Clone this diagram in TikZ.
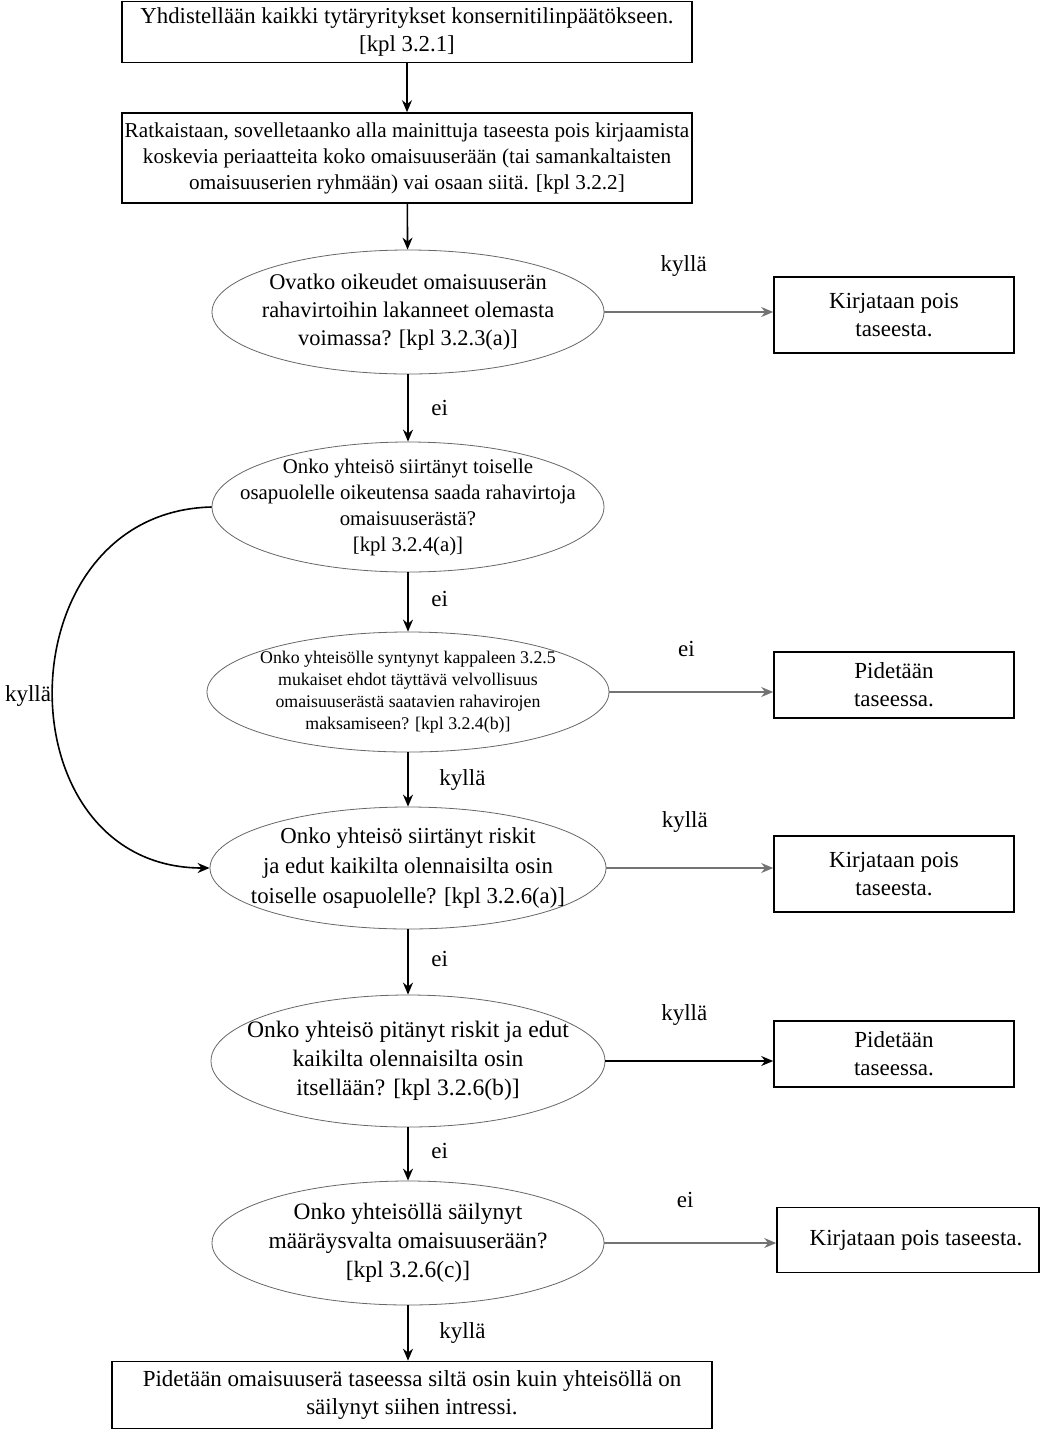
\documentclass[tikz,border=0pt]{standalone}
\usepackage{fontspec}
\setmainfont{Liberation Serif}
\usetikzlibrary{arrows.meta,shapes.geometric,positioning}

\begin{document}
\begin{tikzpicture}[x=0.5pt, y=-0.5pt,
		box/.style={draw, thick, rectangle, align=center, inner sep=0pt, font=\fontsize{11.4}{13.8}\selectfont},
		question/.style={draw=black!60, ellipse, align=center, inner xsep=-22pt, inner ysep=-10pt, font=\fontsize{11.2}{14}\selectfont},
		outcome/.style={draw, thick, rectangle, align=center, inner sep=0pt, minimum width=120pt, font=\fontsize{11.5}{14}\selectfont},
		lbl/.style={text=black, font=\fontsize{11.5}{14}\selectfont},
		flow/.style={-{Stealth[length=6pt,width=5pt]}, thick},
		soft/.style={-{Stealth[length=6pt,width=5pt]}, black!55, thick}]

		\useasboundingbox (0,0) rectangle (1060,1431);

		% main column
		\node[box, minimum width=285pt, minimum height=30.5pt] (b1) at (407,32)
			{Yhdistellään kaikki tytäryritykset konsernitilinpäätökseen.\\ {[kpl 3.2.1]}};
		\node[box, minimum width=285pt, minimum height=45pt, font=\fontsize{10.6}{13}\selectfont] (b2) at (407,158)
			{Ratkaistaan, sovelletaanko alla mainittuja taseesta pois kirjaamista\\
			 koskevia periaatteita koko omaisuuserään (tai samankaltaisten\\
			 omaisuuserien ryhmään) vai osaan siitä. [kpl 3.2.2]};

		\node[question, minimum width=196pt, minimum height=62pt] (e1) at (408,312)
			{Ovatko oikeudet omaisuuserän\\ rahavirtoihin lakanneet olemasta\\ voimassa? [kpl 3.2.3(a)]};
		\node[question, minimum width=196pt, minimum height=65pt, font=\fontsize{10.4}{13}\selectfont] (e2) at (408,507)
			{Onko yhteisö siirtänyt toiselle\\ osapuolelle oikeutensa saada rahavirtoja\\ omaisuuserästä?\\ {[kpl 3.2.4(a)]}};
		\node[question, minimum width=201pt, minimum height=60pt, font=\fontsize{8.9}{11}\selectfont] (e3) at (408,692)
			{Onko yhteisölle syntynyt kappaleen 3.2.5\\ mukaiset ehdot täyttävä velvollisuus\\ omaisuuserästä saatavien rahavirojen\\ maksamiseen? [kpl 3.2.4(b)]};
		\node[question, minimum width=198pt, minimum height=61pt, font=\fontsize{11.4}{15}\selectfont] (e4) at (408,868)
			{Onko yhteisö siirtänyt riskit\\ ja edut kaikilta olennaisilta osin\\ toiselle osapuolelle? [kpl 3.2.6(a)]};
		\node[question, minimum width=197pt, minimum height=66pt, font=\fontsize{11.8}{14.5}\selectfont] (e5) at (408,1061)
			{Onko yhteisö pitänyt riskit ja edut\\ kaikilta olennaisilta osin\\ itsellään? [kpl 3.2.6(b)]};
		\node[question, minimum width=196pt, minimum height=62pt, font=\fontsize{11.7}{14.5}\selectfont] (e6) at (408,1243)
			{Onko yhteisöllä säilynyt\\ määräysvalta omaisuuserään?\\ {[kpl 3.2.6(c)]}};

		\node[box, minimum width=300pt, minimum height=33.5pt, font=\fontsize{11.5}{14}\selectfont] (b3) at (412,1395)
			{Pidetään omaisuuserä taseessa siltä osin kuin yhteisöllä on\\ säilynyt siihen intressi.};

		% outcomes on the right
		\node[outcome, minimum height=38pt] (r1) at (894,315) {Kirjataan pois\\ taseesta.};
		\node[outcome, minimum height=33pt] (r2) at (894,685) {Pidetään\\ taseessa.};
		\node[outcome, minimum height=38pt] (r3) at (894,874) {Kirjataan pois\\ taseesta.};
		\node[outcome, minimum height=33pt] (r4) at (894,1054) {Pidetään\\ taseessa.};
		\node[outcome, minimum width=131pt, minimum height=32.5pt] (r5) at (908,1240) {\hspace*{8pt}Kirjataan pois taseesta.};

		% downward flow
		\draw[flow] (b1) -- (b2);
		\draw[flow] (b2) -- (e1);
		\draw[flow] (e1) -- node[lbl, right=8pt] {ei} (e2);
		\draw[flow] (e2) -- node[lbl, right=8pt, pos=0.45] {ei} (e3);
		\draw[flow] (e3) -- node[lbl, right=12pt] {kyllä} (e4);
		\draw[flow] (e4) -- node[lbl, right=8pt, pos=0.45] {ei} (e5);
		\draw[flow] (e5) -- node[lbl, right=8pt, pos=0.45] {ei} (e6);
		\draw[flow] (e6.south) -- node[lbl, right=12pt, pos=0.5] {kyllä} (e6.south |- b3.north);

		% exits to the right
		\draw[soft] (e1.east) -- node[lbl, above=14pt, pos=0.47] {kyllä} (e1.east -| r1.west);
		\draw[soft] (e3.east) -- node[lbl, above=14pt, pos=0.47] {ei} (e3.east -| r2.west);
		\draw[soft] (e4.east) -- node[lbl, above=14pt, pos=0.47] {kyllä} (e4.east -| r3.west);
		\draw[flow] (e5.east) -- node[lbl, above=14pt, pos=0.47] {kyllä} (e5.east -| r4.west);
		\draw[soft] (e6.east) -- node[lbl, above=14pt, pos=0.47] {ei} (e6.east -| r5.west);

		% bypass from the transfer question
		\draw[flow] (e2.west) .. controls +(-210,5) and +(-210,0) .. (e4.west);
		\node[lbl] (kbypass) at (28,696) {kyllä};

	\end{tikzpicture}
\end{document}
